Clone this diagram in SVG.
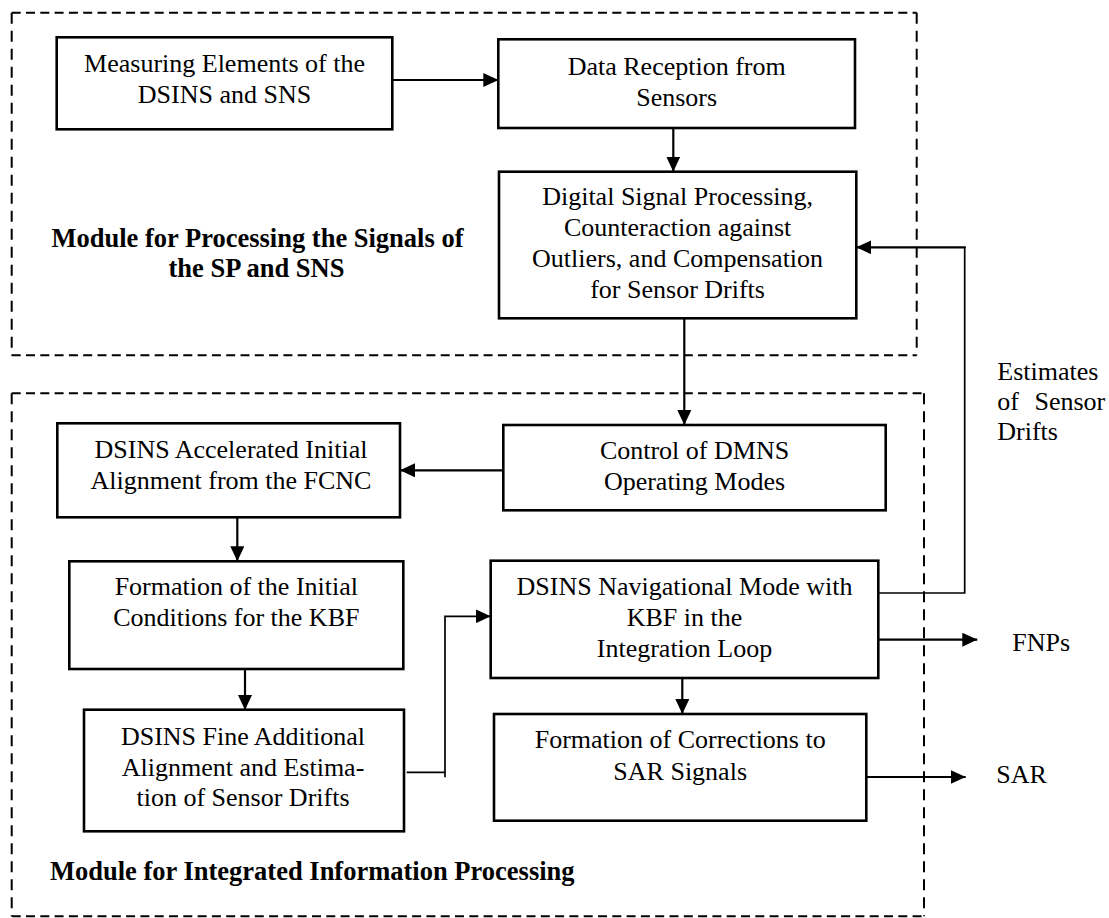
<svg xmlns="http://www.w3.org/2000/svg" width="1109" height="918" viewBox="0 0 1109 918">
<defs>
<style>
.box{fill:#fff;stroke:#000;stroke-width:2.6}
.t{font-family:"Liberation Serif","Times New Roman",serif;font-size:26px;fill:#000;text-anchor:middle}
.tl{font-family:"Liberation Serif","Times New Roman",serif;font-size:26px;fill:#000}
.b{font-family:"Liberation Serif","Times New Roman",serif;font-size:26.5px;font-weight:bold;fill:#000;text-anchor:middle}
.bl{font-family:"Liberation Serif","Times New Roman",serif;font-size:26.5px;font-weight:bold;fill:#000}
.dh{fill:none;stroke:#000;stroke-width:2;stroke-dasharray:9 5.3}
.dv{fill:none;stroke:#000;stroke-width:2;stroke-dasharray:11 7}
.c{fill:none;stroke:#000;stroke-width:2.2}
.ct{fill:none;stroke:#000;stroke-width:1.7}
</style>
<marker id="ah" viewBox="0 0 15 14" refX="15" refY="7" markerWidth="15" markerHeight="14" markerUnits="userSpaceOnUse" orient="auto">
<path d="M0,0 L15,7 L0,14 z" fill="#000"/>
</marker>
</defs>
<rect width="1109" height="918" fill="#fff"/>

<g id="module-top">
<path class="dh" d="M11.7,12.7 H916.7"/>
<path class="dh" d="M11.7,355.3 H916.7"/>
<path class="dv" d="M11.7,12.7 V355.3"/>
<path class="dv" d="M916.7,12.7 V355.3"/>
<text class="b" x="257.5" y="246.7">Module for Processing the Signals of</text>
<text class="b" x="256.5" y="277">the SP and SNS</text>
</g>

<g id="module-bottom">
<path class="dh" d="M11.7,393.3 H924"/>
<path class="dh" d="M11.7,916.3 H924"/>
<path class="dv" d="M11.7,393.3 V916.3"/>
<path class="dv" d="M924,393.3 V916.3"/>
<text class="bl" x="50" y="879.7">Module for Integrated Information Processing</text>
</g>

<g id="connectors">
<path class="c" d="M392.3,80 H498.3" marker-end="url(#ah)"/>
<path class="c" d="M673.3,128 V171.7" marker-end="url(#ah)"/>
<path class="c" d="M684.3,318.3 V425" marker-end="url(#ah)"/>
<path class="c" d="M506.7,470.3 H400" marker-end="url(#ah)"/>
<path class="c" d="M237.3,517.3 V561.3" marker-end="url(#ah)"/>
<path class="c" d="M245,669 V710" marker-end="url(#ah)"/>
<path class="ct" d="M406.7,772.3 H445"/>
<path class="ct" d="M445,777.3 V616.3 H490.7" marker-end="url(#ah)"/>
<path class="c" d="M682.3,676 V714" marker-end="url(#ah)"/>
<path class="c" d="M878.3,639.7 H977.3" marker-end="url(#ah)"/>
<path class="c" d="M866.3,777 H965.7" marker-end="url(#ah)"/>
<path class="ct" d="M878.3,593 H964.7 V247.3 H966"/>
<path class="c" d="M964.7,247.3 H856.3" marker-end="url(#ah)"/>
</g>

<g id="n-measuring">
<rect class="box" x="56.7" y="37.3" width="335.6" height="92"/>
<text class="t" x="224.5" y="71.7">Measuring Elements of the</text>
<text class="t" x="224.5" y="103.3">DSINS and SNS</text>
</g>

<g id="n-reception">
<rect class="box" x="498.3" y="39.3" width="356.7" height="88.7"/>
<text class="t" x="676.7" y="75">Data Reception from</text>
<text class="t" x="676.7" y="106">Sensors</text>
</g>

<g id="n-dsp">
<rect class="box" x="499" y="171.7" width="357.3" height="146.6"/>
<text class="t" x="677.6" y="204.5">Digital Signal Processing,</text>
<text class="t" x="677.6" y="235.5">Counteraction against</text>
<text class="t" x="677.6" y="266.5">Outliers, and Compensation</text>
<text class="t" x="677.6" y="297.5">for Sensor Drifts</text>
</g>

<g id="n-control">
<rect class="box" x="503.3" y="425" width="382.4" height="85.3"/>
<text class="t" x="694.5" y="458.5">Control of DMNS</text>
<text class="t" x="694.5" y="489.7">Operating Modes</text>
</g>

<g id="n-accel">
<rect class="box" x="57.3" y="423.3" width="342.7" height="94"/>
<text class="t" x="231" y="457.7">DSINS Accelerated Initial</text>
<text class="t" x="231" y="488.7">Alignment from the FCNC</text>
</g>

<g id="n-formation">
<rect class="box" x="69.3" y="561.3" width="334" height="107.7"/>
<text class="t" x="236.3" y="595.3">Formation of the Initial</text>
<text class="t" x="236.3" y="626.3">Conditions for the KBF</text>
</g>

<g id="n-fine">
<rect class="box" x="84" y="709.7" width="320" height="121.6"/>
<text class="t" x="243" y="744.7">DSINS Fine Additional</text>
<text class="t" x="243" y="775.5">Alignment and Estima-</text>
<text class="t" x="243" y="806.3">tion of Sensor Drifts</text>
</g>

<g id="n-nav">
<rect class="box" x="490.7" y="560.7" width="387.6" height="117.3"/>
<text class="t" x="684.5" y="594.5">DSINS Navigational Mode with</text>
<text class="t" x="684.5" y="625.5">KBF in the</text>
<text class="t" x="684.5" y="656.5">Integration Loop</text>
</g>

<g id="n-corrections">
<rect class="box" x="494" y="714" width="372.3" height="106.7"/>
<text class="t" x="680.2" y="748">Formation of Corrections to</text>
<text class="t" x="680.2" y="779.7">SAR Signals</text>
</g>

<g id="labels">
<text class="tl" x="997.3" y="380">Estimates</text>
<text class="tl" x="997.3" y="409.5" word-spacing="9">of Sensor</text>
<text class="tl" x="997.3" y="440">Drifts</text>
<text class="tl" x="1012.3" y="651.3">FNPs</text>
<text class="tl" x="996.3" y="783">SAR</text>
</g>
</svg>
